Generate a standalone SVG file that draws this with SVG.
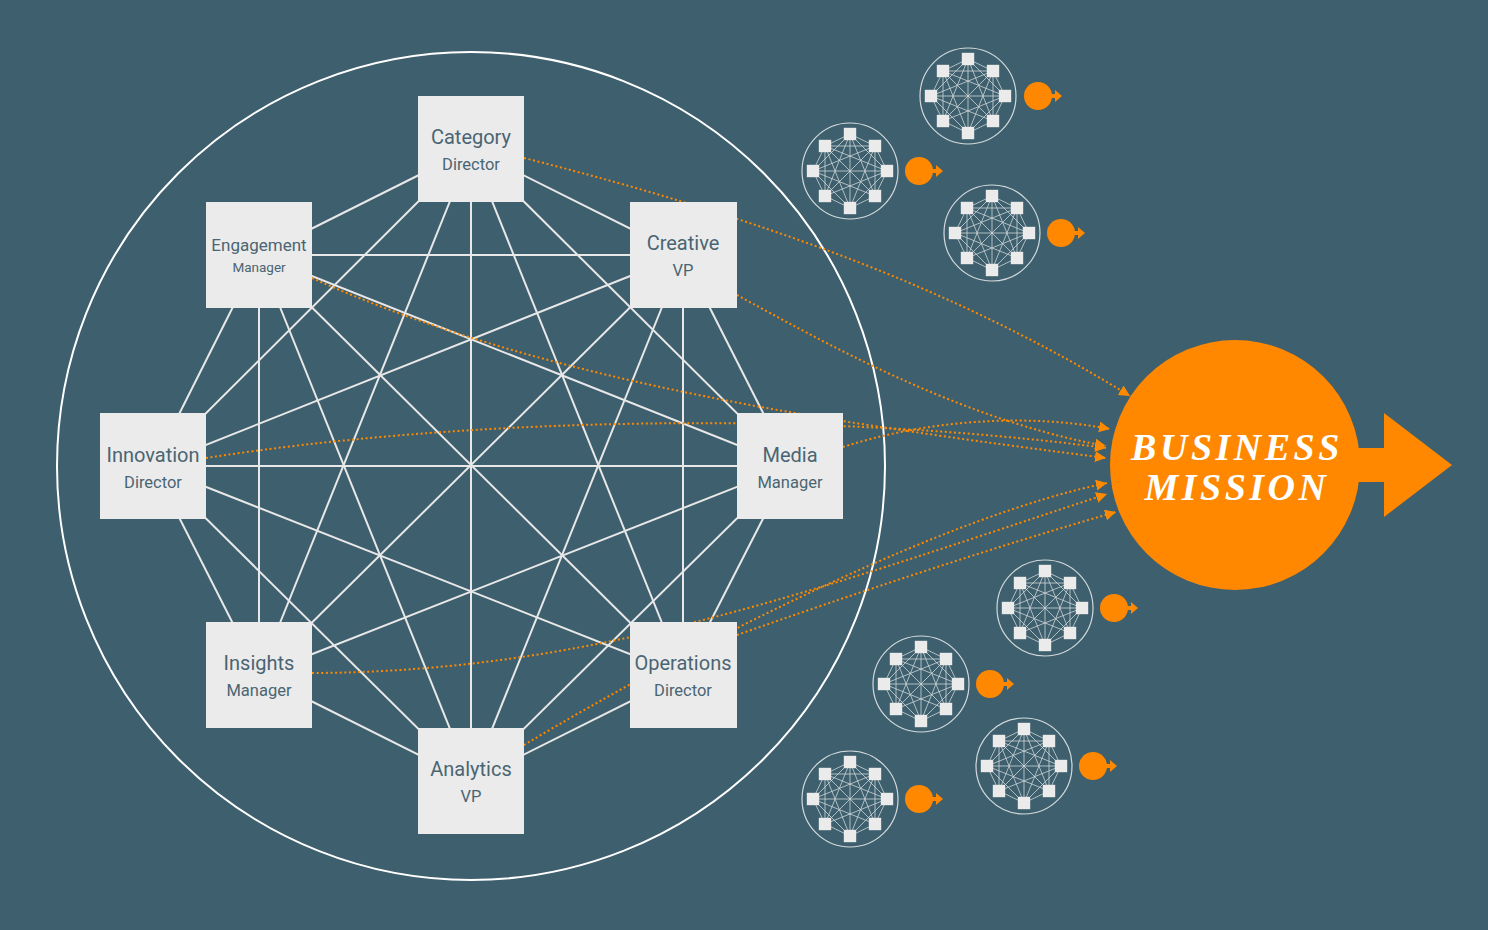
<svg xmlns="http://www.w3.org/2000/svg" xmlns:xlink="http://www.w3.org/1999/xlink" width="1488" height="930" viewBox="0 0 1488 930">
<style>
.edge{stroke:#E8E8E8;stroke-width:2;fill:none}
.dot{stroke:#FF8A00;stroke-width:2;fill:none;stroke-dasharray:2 2.6}
.box{fill:#EBEBEB}
.t1{font-family:Roboto,"Liberation Sans",sans-serif;font-size:20px;fill:#4A6572;text-anchor:middle}
.t2{font-family:Roboto,"Liberation Sans",sans-serif;font-size:16.5px;fill:#4A6572;text-anchor:middle}
.mission{font-family:"Liberation Serif","DejaVu Serif",serif;font-weight:bold;font-style:italic;font-size:38px;fill:#FFFFFF;text-anchor:middle;letter-spacing:3.5px}
.ml{stroke:#D3DADD;stroke-width:0.9;fill:none;opacity:0.85}
.ms{fill:#EBEBEB}
</style>
<defs>
<marker id="ah" markerUnits="userSpaceOnUse" markerWidth="11" markerHeight="11" refX="10" refY="5" orient="auto" viewBox="0 0 10 10">
<path d="M0,0 L10,5 L0,10 z" fill="#FF8A00"/>
</marker>
<g id="mini">
<circle cx="0" cy="0" r="48" fill="none" stroke="#D3DADD" stroke-width="1.2"/>
<path class="ml" d="M0,-37L-25,-25M0,-37L25,-25M0,-37L-37,0M0,-37L37,0M0,-37L-25,25M0,-37L25,25M0,-37L0,37M-25,-25L25,-25M-25,-25L-37,0M-25,-25L37,0M-25,-25L-25,25M-25,-25L25,25M-25,-25L0,37M25,-25L-37,0M25,-25L37,0M25,-25L-25,25M25,-25L25,25M25,-25L0,37M-37,0L37,0M-37,0L-25,25M-37,0L25,25M-37,0L0,37M37,0L-25,25M37,0L25,25M37,0L0,37M-25,25L0,37M25,25L0,37"/>
<rect class="ms" x="-6.2" y="-43.2" width="12.4" height="12.4"/>
<rect class="ms" x="-31.2" y="-31.2" width="12.4" height="12.4"/>
<rect class="ms" x="18.8" y="-31.2" width="12.4" height="12.4"/>
<rect class="ms" x="-43.2" y="-6.2" width="12.4" height="12.4"/>
<rect class="ms" x="30.8" y="-6.2" width="12.4" height="12.4"/>
<rect class="ms" x="-31.2" y="18.8" width="12.4" height="12.4"/>
<rect class="ms" x="18.8" y="18.8" width="12.4" height="12.4"/>
<rect class="ms" x="-6.2" y="30.8" width="12.4" height="12.4"/>
</g>
<g id="goal">
<circle cx="0" cy="0" r="14" fill="#FF8800"/>
<rect x="10" y="-2" width="8" height="4" fill="#FF8800"/>
<polygon points="17,-6 24,0 17,6" fill="#FF8800"/>
</g>
</defs>
<rect x="0" y="0" width="1488" height="930" fill="#3E5F6D"/>
<circle id="team-boundary" cx="471" cy="466" r="414" fill="none" stroke="#FFFFFF" stroke-width="2"/>
<g id="connectors">
<line class="edge" x1="471" y1="149" x2="259" y2="255"/>
<line class="edge" x1="471" y1="149" x2="683" y2="255"/>
<line class="edge" x1="471" y1="149" x2="153" y2="466"/>
<line class="edge" x1="471" y1="149" x2="790" y2="466"/>
<line class="edge" x1="471" y1="149" x2="259" y2="675"/>
<line class="edge" x1="471" y1="149" x2="683" y2="675"/>
<line class="edge" x1="471" y1="149" x2="471" y2="781"/>
<line class="edge" x1="259" y1="255" x2="683" y2="255"/>
<line class="edge" x1="259" y1="255" x2="153" y2="466"/>
<line class="edge" x1="259" y1="255" x2="790" y2="466"/>
<line class="edge" x1="259" y1="255" x2="259" y2="675"/>
<line class="edge" x1="259" y1="255" x2="683" y2="675"/>
<line class="edge" x1="259" y1="255" x2="471" y2="781"/>
<line class="edge" x1="683" y1="255" x2="153" y2="466"/>
<line class="edge" x1="683" y1="255" x2="790" y2="466"/>
<line class="edge" x1="683" y1="255" x2="259" y2="675"/>
<line class="edge" x1="683" y1="255" x2="683" y2="675"/>
<line class="edge" x1="683" y1="255" x2="471" y2="781"/>
<line class="edge" x1="153" y1="466" x2="790" y2="466"/>
<line class="edge" x1="153" y1="466" x2="259" y2="675"/>
<line class="edge" x1="153" y1="466" x2="683" y2="675"/>
<line class="edge" x1="153" y1="466" x2="471" y2="781"/>
<line class="edge" x1="790" y1="466" x2="259" y2="675"/>
<line class="edge" x1="790" y1="466" x2="683" y2="675"/>
<line class="edge" x1="790" y1="466" x2="471" y2="781"/>
<line class="edge" x1="259" y1="675" x2="471" y2="781"/>
<line class="edge" x1="683" y1="675" x2="471" y2="781"/>
<path class="dot" marker-end="url(#ah)" d="M524,158 C750,215 950,285 1130,396"/>
<path class="dot" marker-end="url(#ah)" d="M737,295 C820,340 960,420 1106,446"/>
<path class="dot" marker-end="url(#ah)" d="M206,458 C450,420 800,408 1106,448"/>
<path class="dot" marker-end="url(#ah)" d="M312,278 C550,385 850,425 1106,458"/>
<path class="dot" marker-end="url(#ah)" d="M843,447 C920,422 1020,412 1110,429"/>
<path class="dot" marker-end="url(#ah)" d="M312,673 C600,672 830,585 1107,494"/>
<path class="dot" marker-end="url(#ah)" d="M524,745 C700,640 950,515 1107,483"/>
<path class="dot" marker-end="url(#ah)" d="M737,635 C850,595 1000,545 1116,512"/>
</g>
<g id="node-category"><rect class="box" x="418" y="96" width="106" height="106"/><text class="t1" x="471" y="144">Category</text><text class="t2" x="471" y="170">Director</text></g>
<g id="node-engagement"><rect class="box" x="206" y="202" width="106" height="106"/><text class="t1" x="259" y="251" style="font-size:17px">Engagement</text><text class="t2" x="259" y="272" style="font-size:13.5px">Manager</text></g>
<g id="node-creative"><rect class="box" x="630" y="202" width="107" height="106"/><text class="t1" x="683" y="250">Creative</text><text class="t2" x="683" y="276">VP</text></g>
<g id="node-innovation"><rect class="box" x="100" y="413" width="106" height="106"/><text class="t1" x="153" y="462">Innovation</text><text class="t2" x="153" y="488">Director</text></g>
<g id="node-media"><rect class="box" x="737" y="413" width="106" height="106"/><text class="t1" x="790" y="462">Media</text><text class="t2" x="790" y="488">Manager</text></g>
<g id="node-insights"><rect class="box" x="206" y="622" width="106" height="106"/><text class="t1" x="259" y="670">Insights</text><text class="t2" x="259" y="696">Manager</text></g>
<g id="node-operations"><rect class="box" x="630" y="622" width="107" height="106"/><text class="t1" x="683" y="670">Operations</text><text class="t2" x="683" y="696">Director</text></g>
<g id="node-analytics"><rect class="box" x="418" y="728" width="106" height="106"/><text class="t1" x="471" y="776">Analytics</text><text class="t2" x="471" y="802">VP</text></g>
<g id="business-mission">
<circle cx="1235" cy="465" r="125" fill="#FF8800"/>
<rect x="1340" y="448" width="46" height="34" fill="#FF8800"/>
<polygon points="1384,413 1452,465 1384,517" fill="#FF8800"/>
<text class="mission" x="1237" y="460">BUSINESS</text>
<text class="mission" x="1237" y="500">MISSION</text>
</g>
<g id="team-1"><use xlink:href="#mini" href="#mini" transform="translate(968,96)"/><use xlink:href="#goal" href="#goal" transform="translate(1038,96)"/></g>
<g id="team-2"><use xlink:href="#mini" href="#mini" transform="translate(850,171)"/><use xlink:href="#goal" href="#goal" transform="translate(919,171)"/></g>
<g id="team-3"><use xlink:href="#mini" href="#mini" transform="translate(992,233)"/><use xlink:href="#goal" href="#goal" transform="translate(1061,233)"/></g>
<g id="team-4"><use xlink:href="#mini" href="#mini" transform="translate(1045,608)"/><use xlink:href="#goal" href="#goal" transform="translate(1114,608)"/></g>
<g id="team-5"><use xlink:href="#mini" href="#mini" transform="translate(921,684)"/><use xlink:href="#goal" href="#goal" transform="translate(990,684)"/></g>
<g id="team-6"><use xlink:href="#mini" href="#mini" transform="translate(1024,766)"/><use xlink:href="#goal" href="#goal" transform="translate(1093,766)"/></g>
<g id="team-7"><use xlink:href="#mini" href="#mini" transform="translate(850,799)"/><use xlink:href="#goal" href="#goal" transform="translate(919,799)"/></g>
</svg>
